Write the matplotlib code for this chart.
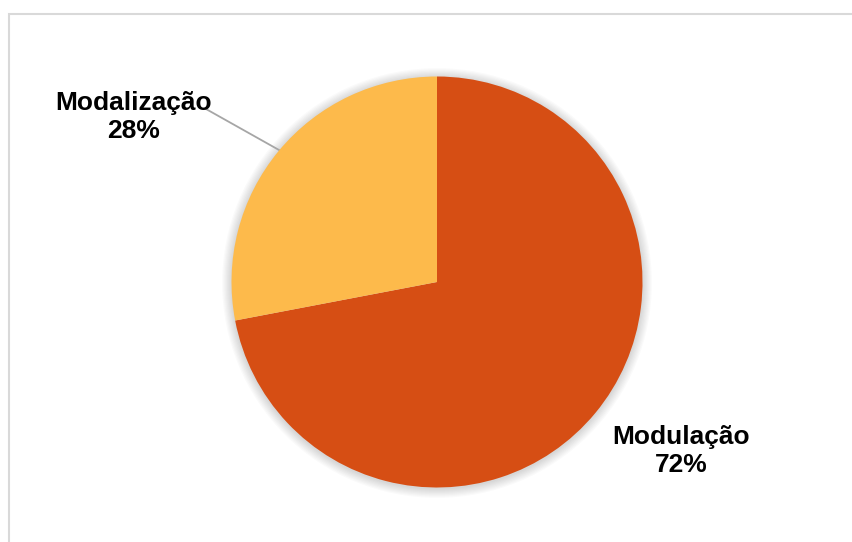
import matplotlib
matplotlib.use("Agg")
import matplotlib.pyplot as plt
from matplotlib.patches import Circle, Rectangle

labels = ["Modulação", "Modalização"]
values = [72, 28]
colors = ["#D64E14", "#FDBA4B"]

W, H = 852, 542
fig = plt.figure(figsize=(W / 100, H / 100), dpi=100)
ax = fig.add_axes([0, 0, 1, 1])
ax.set_xlim(0, W)
ax.set_ylim(0, H)
ax.set_aspect("equal")
ax.axis("off")

# chart frame
ax.add_patch(Rectangle((8.5, -10), W, H - 13.5 + 10, fill=False,
                       edgecolor="#D9D9D9", linewidth=1.5))

cx, cy, r = 437, H - 282, 205.5

# soft glow shadow
for i in range(8):
    ax.add_patch(Circle((cx, cy - 1), r + 1 + i * 1.2, facecolor="#000000",
                        alpha=0.018, edgecolor="none", zorder=1))

wedges, _ = ax.pie(values, colors=colors, startangle=90, counterclock=False,
                   center=(cx, cy), radius=r, frame=True,
                   wedgeprops=dict(edgecolor="none", zorder=2))
ax.set_xlim(0, W)
ax.set_ylim(0, H)
ax.axis("off")

font = dict(family=["Liberation Sans", "DejaVu Sans"], fontweight="bold",
            fontsize=19, color="black", linespacing=1.18)

total = sum(values)
ax.text(134, H - 117, f"{labels[1]}\n{round(values[1] / total * 100)}%",
        ha="center", va="center", **font)
ax.text(681, H - 451, f"{labels[0]}\n{round(values[0] / total * 100)}%",
        ha="center", va="center", **font)

# leader line
ax.plot([206, 279], [H - 109, H - 150], color="#A6A6A6", linewidth=1.3,
        zorder=1.5)

fig.savefig("out.png", dpi=100)
